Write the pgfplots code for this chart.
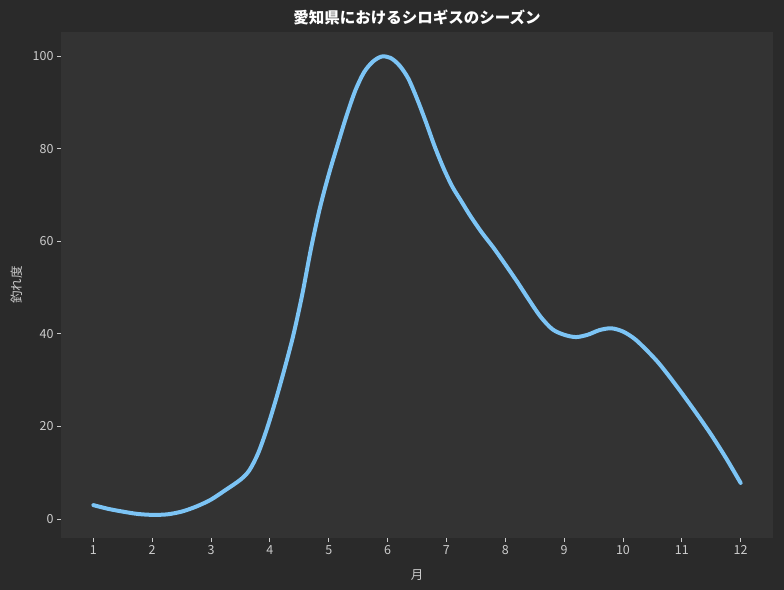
\documentclass[border=0pt]{standalone}
\usepackage{fontspec}
\setmainfont{Noto Sans CJK JP}
\usepackage{pgfplots}
\pgfplotsset{compat=1.18}
\definecolor{outerbg}{HTML}{2A2A2A}
\definecolor{innerbg}{HTML}{333333}
\definecolor{curve}{HTML}{7CC4F5}
\definecolor{ticktext}{HTML}{CCCCCC}
\begin{document}
\begin{tikzpicture}
\fill[outerbg, use as bounding box] (-61bp,-52bp) rectangle ++(784bp,590bp);
\begin{axis}[
    at={(0,0)}, anchor=south west,
    scale only axis,
    width=712bp, height=506bp,
    xmin=0.45, xmax=12.55,
    ymin=-4.1, ymax=105.2,
    xtick={1,...,12},
    ytick={0,20,...,100},
    tick pos=left,
    tick align=outside,
    major tick length=4bp,
    tick style={ticktext, line width=0.8bp},
    axis line style={draw=none},
    axis background/.style={fill=innerbg},
    /pgf/number format/assume math mode=true,
    ticklabel style={font=\fontsize{12.5bp}{14bp}\selectfont, text=ticktext},
    title={\bfseries 愛知県におけるシロギスのシーズン},
    title style={at={(rel axis cs:0.5,1)}, anchor=center, yshift=9bp,
        font=\fontsize{15.5bp}{18bp}\selectfont, text=white},
    xlabel={月},
    xlabel style={at={(rel axis cs:0.5,0)}, anchor=center, yshift=-37bp,
        font=\fontsize{12.5bp}{14bp}\selectfont, text=ticktext},
    ylabel={釣れ度},
    ylabel style={at={(rel axis cs:0,0.5)}, anchor=center, yshift=44bp,
        font=\fontsize{12.5bp}{14bp}\selectfont, text=ticktext},
]
% values
\addplot[curve, line width=4bp, smooth, tension=0.5, line cap=round] coordinates {
    (1.00,3.0) (1.25,2.2) (1.50,1.6) (1.75,1.1) (2.00,0.9) (2.25,1.0)
    (2.50,1.6) (2.75,2.7) (3.00,4.2) (3.25,6.3) (3.50,8.5) (3.65,10.5)
    (3.80,14.2) (3.95,19.5) (4.10,25.7) (4.25,32.5) (4.40,39.8) (4.55,48.5)
    (4.70,58.5) (4.85,67.2) (5.00,74.4) (5.15,80.8) (5.30,87.0) (5.45,92.5)
    (5.60,96.5) (5.75,98.8) (5.90,99.9) (6.05,99.6) (6.20,98.0) (6.35,95.2)
    (6.50,90.8) (6.65,85.8) (6.80,80.5) (6.95,75.8) (7.10,71.8) (7.25,68.7)
    (7.40,65.6) (7.60,61.9) (7.80,58.6) (8.00,55.0) (8.20,51.3) (8.40,47.4)
    (8.60,43.7) (8.80,41.0) (9.00,39.8) (9.20,39.3) (9.40,39.8) (9.60,40.8)
    (9.80,41.2) (10.00,40.5) (10.20,38.9) (10.40,36.5) (10.60,33.8) (10.80,30.6)
    (11.00,27.2) (11.25,22.8) (11.50,18.2) (11.75,13.2) (12.00,7.8)
};
\end{axis}
\end{tikzpicture}
\end{document}
